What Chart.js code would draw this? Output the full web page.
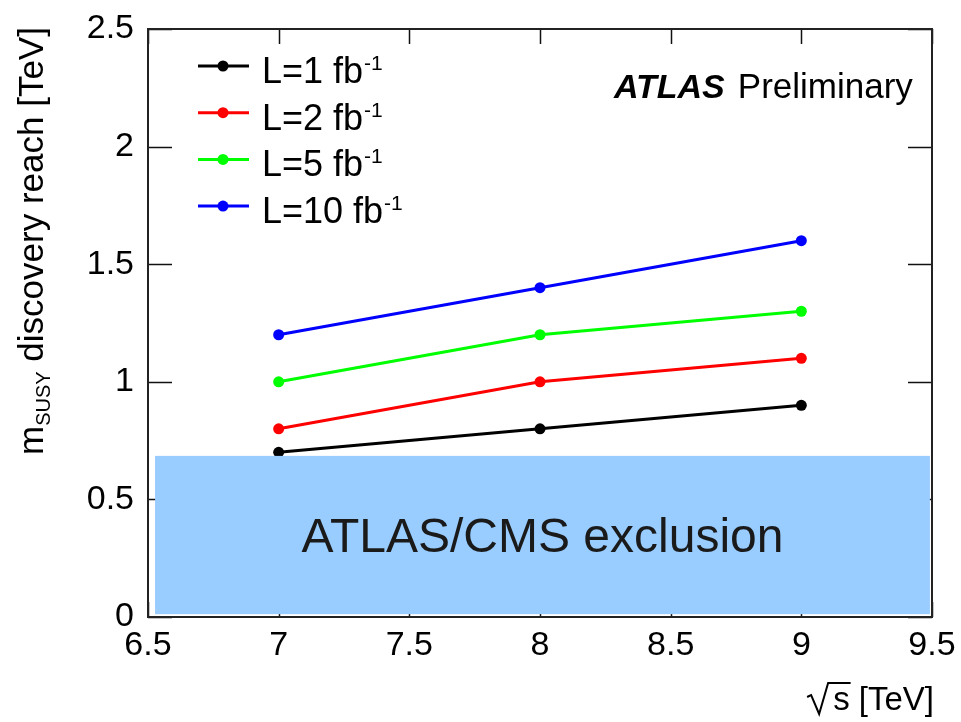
<!DOCTYPE html>
<html>
<head>
<meta charset="utf-8">
<script src="https://cdn.jsdelivr.net/npm/chart.js@4.4.0/dist/chart.umd.min.js"></script>
<style>
  html, body { margin: 0; padding: 0; background: #ffffff; }
  #reach { display: block; }
</style>
</head>
<body>
<canvas id="reach" width="961" height="722"></canvas>
<script>
// Centre-of-mass energies (TeV) and the SUSY mass discovery reach (TeV)
const energies = [7, 8, 9];
const reach1fb = [0.7, 0.8, 0.9];
const reach2fb = [0.8, 1.0, 1.1];
const reach5fb = [1.0, 1.2, 1.3];
const reach10fb = [1.2, 1.4, 1.6];

const lumiLabels = ['L=1 fb', 'L=2 fb', 'L=5 fb', 'L=10 fb'];
const lumiExponent = '-1';
const seriesColors = ['#000000', '#ff0000', '#00ff00', '#0000ff'];

// Region already excluded by ATLAS/CMS
const exclusionRange = [6.527, 9.492];
const exclusionBand = [0.012, 0.685];
const exclusionLabel = 'ATLAS/CMS exclusion';

const xTickValues = [6.5, 7, 7.5, 8, 8.5, 9, 9.5];
const yTickValues = [0, 0.5, 1, 1.5, 2, 2.5];

const FONT = "'Liberation Sans', Arial, Helvetica, sans-serif";
Chart.defaults.font.family = FONT;
Chart.defaults.color = '#000000';

const series = [reach1fb, reach2fb, reach5fb, reach10fb];
const datasets = series.map((vals, i) => ({
  label: lumiLabels[i],
  data: energies.map((e, k) => ({ x: e, y: vals[k] })),
  borderColor: seriesColors[i],
  backgroundColor: seriesColors[i],
  borderWidth: 3,
  pointRadius: 5.5,
  pointHoverRadius: 5.5,
  pointBorderWidth: 0,
  tension: 0,
  fill: false
}));

const plainNumber = v => String(v);

// fixed axis box sizes; the frame itself is drawn by the plugin below
const fixAxis = (s, size) => {
  if (s.isHorizontal()) s.height = size; else s.width = size;
  s.paddingTop = 0; s.paddingBottom = 0; s.paddingLeft = 0; s.paddingRight = 0;
};

const framePlugin = {
  id: 'frame',
  beforeDatasetsDraw(chart) {
    // inward tick marks on all four sides
    const { ctx, chartArea: a, scales: { x, y } } = chart;
    ctx.save();
    ctx.strokeStyle = '#111111';
    ctx.lineWidth = 1.5;
    ctx.beginPath();
    yTickValues.forEach(v => {
      const py = Math.round(y.getPixelForValue(v)) + 0.5;
      ctx.moveTo(a.left, py); ctx.lineTo(a.left + 24, py);
      ctx.moveTo(a.right, py); ctx.lineTo(a.right - 24, py);
    });
    xTickValues.forEach(v => {
      const px = Math.round(x.getPixelForValue(v)) + 0.5;
      ctx.moveTo(px, a.top); ctx.lineTo(px, a.top + 15);
      ctx.moveTo(px, a.bottom); ctx.lineTo(px, a.bottom - 15);
    });
    ctx.stroke();
    ctx.restore();
  },
  afterDatasetsDraw(chart) {
    const { ctx, chartArea: a, scales: { x, y } } = chart;
    ctx.save();
    // exclusion band
    const x0 = x.getPixelForValue(exclusionRange[0]);
    const x1 = x.getPixelForValue(exclusionRange[1]);
    const y0 = y.getPixelForValue(exclusionBand[0]);
    const y1 = y.getPixelForValue(exclusionBand[1]);
    ctx.fillStyle = '#99ccff';
    ctx.fillRect(x0, y1, x1 - x0, y0 - y1);
    ctx.fillStyle = '#1a1a1a';
    ctx.font = '48px ' + FONT;
    ctx.textAlign = 'center';
    ctx.textBaseline = 'alphabetic';
    ctx.fillText(exclusionLabel, (x0 + x1) / 2, (y0 + y1) / 2 + 17);

    // plot frame
    ctx.strokeStyle = '#222222';
    ctx.lineWidth = 2;
    ctx.strokeRect(a.left, a.top, a.right - a.left, a.bottom - a.top);
    ctx.restore();
  },
  afterDraw(chart) {
    const { ctx } = chart;
    ctx.save();
    ctx.fillStyle = '#000000';
    ctx.textAlign = 'left';
    ctx.textBaseline = 'alphabetic';

    // legend
    lumiLabels.forEach((lab, i) => {
      const ly = 66 + i * 46.7;
      ctx.strokeStyle = seriesColors[i];
      ctx.fillStyle = seriesColors[i];
      ctx.lineWidth = 3;
      ctx.beginPath();
      ctx.moveTo(198, ly); ctx.lineTo(249, ly);
      ctx.stroke();
      ctx.beginPath();
      ctx.arc(223, ly, 5.5, 0, Math.PI * 2);
      ctx.fill();
      ctx.fillStyle = '#000000';
      ctx.font = '36px ' + FONT;
      ctx.fillText(lab, 262, ly + 17);
      const w = ctx.measureText(lab).width;
      ctx.font = '21px ' + FONT;
      ctx.fillText(lumiExponent, 262 + w + 1, ly + 4);
    });

    // experiment label
    ctx.font = 'italic bold 34px ' + FONT;
    ctx.fillText('ATLAS', 614, 98);
    const aw = ctx.measureText('ATLAS').width;
    ctx.font = '35px ' + FONT;
    ctx.fillText('Preliminary', 614 + aw + 13, 98);

    // x-axis title: sqrt(s) [TeV]
    ctx.font = '33px ' + FONT;
    ctx.textAlign = 'right';
    const xt = 's [TeV]';
    const right = 934, base = 710;
    ctx.fillText(xt, right, base);
    const sLeft = right - ctx.measureText(xt).width;
    const sW = ctx.measureText('s').width;
    ctx.strokeStyle = '#000000';
    ctx.lineWidth = 2;
    ctx.beginPath();
    ctx.moveTo(sLeft - 26, base - 13);
    ctx.lineTo(sLeft - 22, base - 15);
    ctx.lineTo(sLeft - 14, base + 4);
    ctx.lineTo(sLeft - 5, base - 27);
    ctx.lineTo(sLeft + sW + 1, base - 27);
    ctx.stroke();

    // y-axis title: m_SUSY discovery reach [TeV]
    ctx.translate(43, 455);
    ctx.rotate(-Math.PI / 2);
    ctx.textAlign = 'left';
    ctx.font = '35px ' + FONT;
    ctx.fillText('m', 0, 0);
    let cx = ctx.measureText('m').width;
    ctx.font = '20px ' + FONT;
    ctx.fillText('SUSY', cx, 7);
    cx += ctx.measureText('SUSY').width;
    ctx.font = '35px ' + FONT;
    ctx.fillText(' discovery reach [TeV]', cx, 0);
    ctx.restore();
  }
};

new Chart(document.getElementById('reach'), {
  type: 'line',
  data: { datasets },
  options: {
    responsive: false,
    animation: false,
    events: [],
    layout: { autoPadding: false, padding: { top: 29, right: 29, left: 0, bottom: 0 } },
    plugins: { legend: { display: false }, tooltip: { enabled: false } },
    scales: {
      x: {
        type: 'linear',
        min: 6.5,
        max: 9.5,
        afterBuildTicks: s => { s.ticks = xTickValues.map(v => ({ value: v })); },
        afterFit: s => fixAxis(s, 105),
        grid: { display: false, drawTicks: false },
        border: { display: false },
        ticks: { font: { size: 34 }, color: '#000000', padding: 8, maxRotation: 0, autoSkip: false, callback: plainNumber }
      },
      y: {
        type: 'linear',
        min: 0,
        max: 2.5,
        afterBuildTicks: s => { s.ticks = yTickValues.map(v => ({ value: v })); },
        afterFit: s => fixAxis(s, 148),
        grid: { display: false, drawTicks: false },
        border: { display: false },
        ticks: { font: { size: 34 }, color: '#000000', padding: 14, autoSkip: false, callback: plainNumber }
      }
    }
  },
  plugins: [framePlugin]
});
</script>
</body>
</html>
